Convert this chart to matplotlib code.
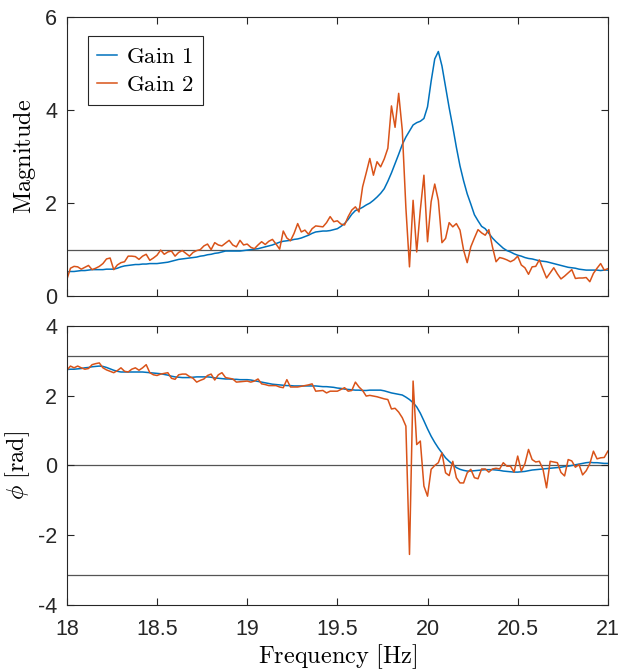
import numpy as np
import matplotlib
matplotlib.use("Agg")
import matplotlib.pyplot as plt

plt.rcParams["mathtext.fontset"] = "cm"
plt.rcParams["axes.unicode_minus"] = False
plt.rcParams["font.family"] = ["Liberation Sans", "DejaVu Sans"]

# frequency sweep, 18-21 Hz in 0.02 Hz steps
freq_start, freq_stop = 18.0, 21.0

mag_gain1 = [
    0.52, 0.53, 0.53, 0.54, 0.55, 0.55, 0.56, 0.57, 0.57, 0.57,
    0.57, 0.58, 0.58, 0.58, 0.60, 0.63, 0.65, 0.66, 0.67, 0.68,
    0.68, 0.69, 0.69, 0.70, 0.70, 0.70, 0.71, 0.72, 0.73, 0.75,
    0.77, 0.79, 0.80, 0.81, 0.82, 0.83, 0.84, 0.86, 0.87, 0.89,
    0.90, 0.92, 0.93, 0.95, 0.97, 0.97, 0.97, 0.97, 0.97, 0.98,
    0.99, 1.00, 1.01, 1.02, 1.04, 1.06, 1.08, 1.10, 1.13, 1.16,
    1.18, 1.19, 1.20, 1.22, 1.23, 1.25, 1.28, 1.31, 1.35, 1.38,
    1.39, 1.40, 1.40, 1.41, 1.43, 1.45, 1.50, 1.56, 1.65, 1.76,
    1.84, 1.87, 1.91, 1.96, 2.00, 2.06, 2.13, 2.21, 2.31, 2.47,
    2.65, 2.85, 3.05, 3.26, 3.42, 3.55, 3.68, 3.73, 3.76, 3.82,
    4.07, 4.62, 5.10, 5.26, 4.95, 4.50, 4.05, 3.64, 3.20, 2.80,
    2.48, 2.20, 1.98, 1.75, 1.62, 1.50, 1.45, 1.35, 1.25, 1.17,
    1.10, 1.03, 0.98, 0.95, 0.91, 0.88, 0.86, 0.83, 0.81, 0.80,
    0.78, 0.76, 0.75, 0.74, 0.72, 0.70, 0.68, 0.66, 0.64, 0.62,
    0.61, 0.60, 0.58, 0.57, 0.56, 0.56, 0.56, 0.56, 0.55, 0.56,
    0.56,
]

mag_gain2 = [
    0.36, 0.60, 0.64, 0.63, 0.58, 0.62, 0.66, 0.57, 0.60, 0.64,
    0.70, 0.80, 0.82, 0.57, 0.67, 0.72, 0.74, 0.86, 0.86, 0.85,
    0.79, 0.86, 0.90, 0.77, 0.82, 0.88, 0.99, 0.90, 0.95, 0.97,
    0.86, 0.94, 0.98, 0.92, 0.86, 0.94, 0.98, 1.00, 1.08, 1.12,
    1.00, 1.15, 1.10, 1.08, 1.14, 1.20, 1.10, 1.06, 1.20, 1.10,
    1.12, 1.05, 1.02, 1.10, 1.17, 1.11, 1.18, 1.22, 1.12, 1.01,
    1.40, 1.25, 1.19, 1.35, 1.56, 1.38, 1.42, 1.33, 1.45, 1.51,
    1.50, 1.49, 1.58, 1.71, 1.60, 1.62, 1.55, 1.53, 1.71, 1.85,
    1.92, 1.81, 2.35, 2.65, 2.96, 2.60, 2.89, 2.78, 2.95, 3.18,
    4.09, 3.63, 4.36, 3.57, 1.90, 0.63, 2.06, 0.95, 1.85, 2.60,
    1.17, 2.03, 2.41, 2.06, 1.15, 1.24, 1.58, 1.49, 1.56, 1.42,
    0.99, 0.72, 1.06, 1.25, 1.43, 1.36, 1.31, 1.43, 1.06, 0.74,
    0.83, 0.81, 0.78, 0.74, 0.78, 0.86, 0.67, 0.61, 0.47, 0.63,
    0.64, 0.78, 0.58, 0.39, 0.50, 0.61, 0.48, 0.37, 0.43, 0.50,
    0.57, 0.38, 0.39, 0.39, 0.40, 0.31, 0.49, 0.60, 0.70, 0.56,
    0.59,
]

phase_gain1 = [
    2.75, 2.76, 2.76, 2.77, 2.78, 2.80, 2.81, 2.83, 2.84, 2.85,
    2.84, 2.81, 2.77, 2.73, 2.70, 2.68, 2.68, 2.68, 2.68, 2.68,
    2.68, 2.68, 2.67, 2.66, 2.65, 2.64, 2.63, 2.61, 2.59, 2.56,
    2.54, 2.53, 2.52, 2.52, 2.52, 2.53, 2.54, 2.54, 2.54, 2.54,
    2.53, 2.51, 2.50, 2.49, 2.48, 2.48, 2.47, 2.47, 2.46, 2.46,
    2.46, 2.45, 2.43, 2.41, 2.39, 2.37, 2.35, 2.33, 2.32, 2.31,
    2.30, 2.29, 2.29, 2.28, 2.28, 2.28, 2.28, 2.28, 2.28, 2.28,
    2.27, 2.26, 2.26, 2.25, 2.24, 2.22, 2.21, 2.19, 2.18, 2.17,
    2.16, 2.16, 2.15, 2.15, 2.16, 2.16, 2.16, 2.16, 2.14, 2.11,
    2.08, 2.06, 2.04, 2.02, 1.96, 1.89, 1.80, 1.68, 1.50, 1.28,
    1.05, 0.84, 0.66, 0.50, 0.36, 0.22, 0.12, 0.03, -0.06, -0.11,
    -0.14, -0.16, -0.16, -0.15, -0.14, -0.13, -0.12, -0.12, -0.12, -0.13,
    -0.14, -0.16, -0.17, -0.18, -0.19, -0.19, -0.18, -0.17, -0.15, -0.13,
    -0.12, -0.11, -0.10, -0.09, -0.08, -0.07, -0.06, -0.05, -0.03, -0.02,
    0.00, 0.02, 0.04, 0.06, 0.08, 0.09, 0.08, 0.08, 0.07, 0.06,
    0.06,
]

phase_gain2 = [
    2.73, 2.85, 2.80, 2.85, 2.80, 2.76, 2.78, 2.89, 2.92, 2.94,
    2.80, 2.74, 2.70, 2.66, 2.72, 2.80, 2.70, 2.68, 2.76, 2.80,
    2.73, 2.80, 2.89, 2.66, 2.60, 2.58, 2.62, 2.64, 2.66, 2.50,
    2.47, 2.60, 2.62, 2.62, 2.55, 2.50, 2.39, 2.44, 2.48, 2.58,
    2.62, 2.45, 2.60, 2.66, 2.52, 2.50, 2.48, 2.39, 2.40, 2.41,
    2.42, 2.39, 2.42, 2.48, 2.34, 2.32, 2.29, 2.29, 2.29, 2.25,
    2.23, 2.46, 2.25, 2.25, 2.25, 2.27, 2.29, 2.31, 2.34, 2.13,
    2.14, 2.15, 2.08, 2.13, 2.13, 2.13, 2.18, 2.23, 2.13, 2.15,
    2.39, 2.25, 2.15, 1.99, 2.01, 1.99, 1.97, 1.94, 1.91, 1.89,
    1.62, 1.64, 1.53, 1.37, 1.13, -2.55, 2.42, 0.60, 0.70, -0.59,
    -0.88, -0.11, 0.00, 0.08, 0.36, -0.21, -0.29, 0.12, -0.35, -0.50,
    -0.50, -0.21, -0.11, -0.35, -0.38, -0.10, -0.10, -0.19, -0.10, -0.08,
    -0.10, 0.08, -0.02, -0.02, -0.19, 0.27, -0.16, 0.05, 0.46, 0.17,
    0.10, 0.12, -0.10, -0.64, 0.12, 0.10, 0.08, -0.20, -0.30, 0.17,
    0.13, -0.05, 0.03, -0.27, -0.15, 0.05, 0.41, 0.19, 0.22, 0.23,
    0.41,
]

freq = np.linspace(freq_start, freq_stop, len(mag_gain1))

blue = "#0072BD"
orange = "#D95319"
ref_gray = "#555555"
axis_col = "#262626"

fig = plt.figure(figsize=(6.19, 6.70), dpi=100)
ax1 = fig.add_axes([0.108, 0.558, 0.874, 0.4165])
ax2 = fig.add_axes([0.108, 0.097, 0.874, 0.4165])

for ax in (ax1, ax2):
    ax.set_xlim(freq_start, freq_stop)
    ax.set_xticks([18, 18.5, 19, 19.5, 20, 20.5, 21])
    ax.tick_params(direction="in", top=True, right=True, length=5,
                   width=0.8, colors=axis_col, labelsize=15.5)
    ax.tick_params(axis="x", pad=10)
    ax.tick_params(axis="y", pad=7)
    for s in ax.spines.values():
        s.set_color(axis_col)
        s.set_linewidth(0.8)

# magnitude
ax1.axhline(1, color=ref_gray, lw=0.9, zorder=1)
ax1.plot(freq, mag_gain1, color=blue, lw=1.1, label=r"$\mathrm{Gain\ 1}$")
ax1.plot(freq, mag_gain2, color=orange, lw=1.1, label=r"$\mathrm{Gain\ 2}$")
ax1.set_ylim(0, 6)
ax1.set_yticks([0, 2, 4, 6])
ax1.set_xticklabels([])
ax1.set_ylabel(r"$\mathrm{Magnitude}$", fontsize=17.5, labelpad=5)
leg = ax1.legend(loc="upper left", bbox_to_anchor=(0.039, 0.932),
                 borderaxespad=0, fancybox=False, framealpha=1,
                 edgecolor=axis_col, fontsize=16.5, handlelength=0.9,
                 handletextpad=0.4, borderpad=0.38, labelspacing=0.25)
leg.get_frame().set_linewidth(0.8)

# phase
for yv in (np.pi, 0, -np.pi):
    ax2.axhline(yv, color=ref_gray, lw=0.9, zorder=1)
ax2.plot(freq, phase_gain1, color=blue, lw=1.1)
ax2.plot(freq, phase_gain2, color=orange, lw=1.1)
ax2.set_ylim(-4, 4)
ax2.set_yticks([-4, -2, 0, 2, 4])
ax2.set_xticklabels(["18", "18.5", "19", "19.5", "20", "20.5", "21"])
ax2.set_ylabel(r"$\phi\ \mathrm{[rad]}$", fontsize=17.5, labelpad=4)
ax2.set_xlabel(r"$\mathrm{Frequency\ [Hz]}$", fontsize=17.5, labelpad=2)

fig.savefig("out.png", dpi=100)
